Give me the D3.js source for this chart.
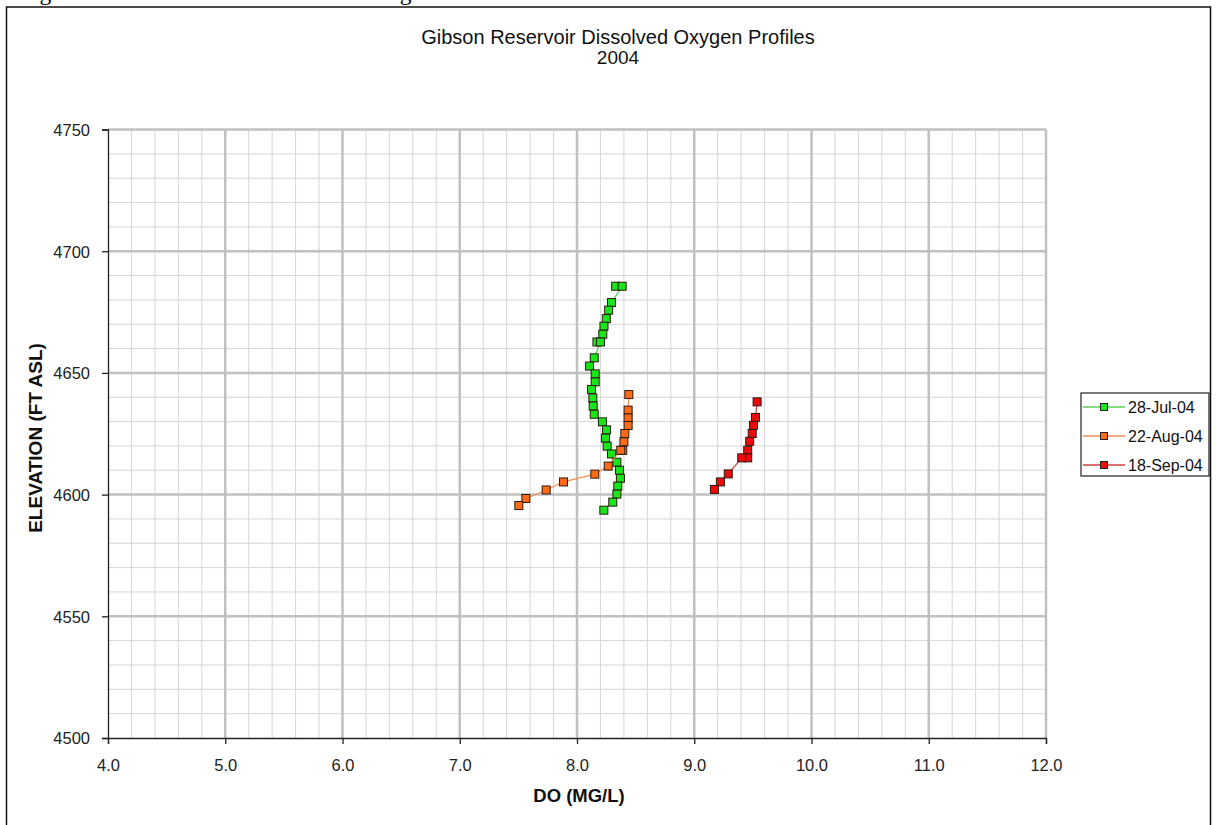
<!DOCTYPE html>
<html>
<head>
<meta charset="utf-8">
<script src="https://cdn.jsdelivr.net/npm/d3@7.9.0/dist/d3.min.js"></script>
<style>
  body { margin: 0; background: #fff; }
  svg { display: block; font-family: Arial, "Liberation Sans", sans-serif; }
</style>
</head>
<body>
<svg id="chart" width="1217" height="825"></svg>
<script>
// DO profiles, value (mg/L) and elevation (ft ASL)
const julDO = [8.33, 8.385, 8.294, 8.27, 8.25, 8.23, 8.22, 8.17, 8.20, 8.147, 8.107, 8.155, 8.155, 8.124, 8.135, 8.138, 8.147, 8.217, 8.252, 8.243, 8.257, 8.294, 8.34, 8.362, 8.37, 8.348, 8.34, 8.305, 8.229];
const julElev = [4685.6, 4685.6, 4678.9, 4675.8, 4672.3, 4669.2, 4665.9, 4662.7, 4662.7, 4656.2, 4652.8, 4649.6, 4646.3, 4643.2, 4639.7, 4636.4, 4633.0, 4629.9, 4626.6, 4623.2, 4619.9, 4616.7, 4613.3, 4610.0, 4606.7, 4603.5, 4600.2, 4596.9, 4593.6];

const augDO = [8.442, 8.436, 8.436, 8.436, 8.408, 8.40, 8.39, 8.373, 8.266, 8.152, 7.885, 7.737, 7.564, 7.504];
const augElev = [4641.1, 4634.7, 4631.5, 4628.4, 4625.1, 4621.7, 4618.2, 4618.2, 4611.7, 4608.4, 4605.2, 4601.9, 4598.4, 4595.5];

const sepDO = [9.536, 9.522, 9.505, 9.494, 9.473, 9.456, 9.456, 9.405, 9.29, 9.223, 9.172];
const sepElev = [4638.1, 4631.7, 4628.5, 4625.1, 4621.9, 4618.2, 4615.1, 4615.1, 4608.5, 4605.2, 4602.1];

const seriesNames = ["28-Jul-04", "22-Aug-04", "18-Sep-04"];
const xTicks = [4, 5, 6, 7, 8, 9, 10, 11, 12];
const yTicks = [4500, 4550, 4600, 4650, 4700, 4750];

const series = [
  { name: seriesNames[0], x: julDO, y: julElev, line: "#5fcf5f", fill: "#19e619" },
  { name: seriesNames[1], x: augDO, y: augElev, line: "#ee8f55", fill: "#ff6a16" },
  { name: seriesNames[2], x: sepDO, y: sepElev, line: "#d33c3c", fill: "#ee0a0a" }
];

const svg = d3.select("#chart");

// caption line of the page, mostly cut off above
svg.append("text")
  .attr("x", 20).attr("y", 0)
  .attr("font-family", "'Liberation Serif', 'Times New Roman', serif")
  .attr("font-size", 23.5)
  .text("Figure 14.  Gibson Reservoir DO Readings");

// chart frame
svg.append("rect")
  .attr("x", 6.5).attr("y", 7)
  .attr("width", 1204).attr("height", 830)
  .attr("fill", "none").attr("stroke", "#111").attr("stroke-width", 1.5);

const x = d3.scaleLinear().domain([4, 12]).range([108, 1046]);
const y = d3.scaleLinear().domain([4500, 4750]).range([738, 129.5]);

// grid
const grid = svg.append("g");
grid.selectAll(".vx").data(d3.range(4.2, 12, 0.2).filter(v => Math.abs(v - Math.round(v)) > 0.01))
  .join("line")
  .attr("x1", d => x(d)).attr("x2", d => x(d))
  .attr("y1", y(4500)).attr("y2", y(4750))
  .attr("stroke", "#d6d6d6").attr("stroke-width", 1);
grid.selectAll(".hy").data(d3.range(4510, 4750, 10).filter(v => v % 50 !== 0))
  .join("line")
  .attr("x1", x(4)).attr("x2", x(12))
  .attr("y1", d => y(d)).attr("y2", d => y(d))
  .attr("stroke", "#d6d6d6").attr("stroke-width", 1);
grid.selectAll(".vmaj").data(xTicks.slice(1))
  .join("line")
  .attr("x1", d => x(d)).attr("x2", d => x(d))
  .attr("y1", y(4500)).attr("y2", y(4750))
  .attr("stroke", "#c0c0c0").attr("stroke-width", 2.5);
grid.selectAll(".hmaj").data(yTicks.slice(1))
  .join("line")
  .attr("x1", x(4)).attr("x2", x(12))
  .attr("y1", d => y(d)).attr("y2", d => y(d))
  .attr("stroke", "#c0c0c0").attr("stroke-width", 2.5);

// axes
const xAxis = svg.append("g")
  .attr("transform", `translate(0,${y(4500)})`)
  .call(d3.axisBottom(x).tickValues(xTicks).tickFormat(d3.format(".1f")).tickSize(6).tickPadding(15));
const yAxis = svg.append("g")
  .attr("transform", `translate(${x(4)},0)`)
  .call(d3.axisLeft(y).tickValues(yTicks).tickFormat(d3.format("d")).tickSize(6).tickPadding(12));

[xAxis, yAxis].forEach(a => {
  a.select(".domain").attr("stroke", "#222").attr("stroke-width", 1.3);
  a.selectAll(".tick line").attr("stroke", "#222").attr("stroke-width", 1.3);
  a.selectAll(".tick text").attr("font-size", 16.5).attr("fill", "#222")
    .attr("font-family", "Arial, 'Liberation Sans', sans-serif");
});
yAxis.selectAll(".tick text").attr("dy", "0.36em");

// series
const ms = 8;
series.forEach(s => {
  const pts = s.x.map((v, i) => [v, s.y[i]]);
  svg.append("path")
    .datum(pts)
    .attr("fill", "none")
    .attr("stroke", s.line)
    .attr("stroke-width", 1.2)
    .attr("d", d3.line().x(d => x(d[0])).y(d => y(d[1])));
  svg.append("g").selectAll("rect")
    .data(pts)
    .join("rect")
    .attr("x", d => x(d[0]) - ms / 2)
    .attr("y", d => y(d[1]) - ms / 2)
    .attr("width", ms).attr("height", ms)
    .attr("fill", s.fill)
    .attr("stroke", "#2a1a10").attr("stroke-width", 1);
});

// titles
svg.append("text")
  .attr("x", 618).attr("y", 44)
  .attr("text-anchor", "middle")
  .attr("font-size", 20).attr("fill", "#111")
  .text("Gibson Reservoir Dissolved Oxygen Profiles");
svg.append("text")
  .attr("x", 618).attr("y", 64)
  .attr("text-anchor", "middle")
  .attr("font-size", 19).attr("fill", "#111")
  .text("2004");

svg.append("text")
  .attr("x", 579).attr("y", 802)
  .attr("text-anchor", "middle")
  .attr("font-size", 18.5).attr("font-weight", "bold").attr("fill", "#111")
  .text("DO (MG/L)");

svg.append("text")
  .attr("transform", "translate(42,438) rotate(-90)")
  .attr("text-anchor", "middle")
  .attr("font-size", 19).attr("font-weight", "bold").attr("fill", "#111")
  .text("ELEVATION (FT ASL)");

// legend
const legend = svg.append("g").attr("transform", "translate(1081,393)");
legend.append("rect")
  .attr("width", 128).attr("height", 83)
  .attr("fill", "#fff").attr("stroke", "#222").attr("stroke-width", 1.2);
const item = legend.selectAll(".item")
  .data(series)
  .join("g")
  .attr("transform", (d, i) => `translate(0,${14 + i * 29})`);
item.append("line")
  .attr("x1", 2).attr("x2", 44)
  .attr("stroke", d => d.line).attr("stroke-width", 1.5);
item.append("rect")
  .attr("x", 23 - 3.5).attr("y", -3.5)
  .attr("width", 7).attr("height", 7)
  .attr("fill", d => d.fill).attr("stroke", "#222").attr("stroke-width", 1);
item.append("text")
  .attr("x", 47).attr("dy", "0.36em")
  .attr("font-size", 16).attr("fill", "#111")
  .text(d => d.name);
</script>
</body>
</html>
